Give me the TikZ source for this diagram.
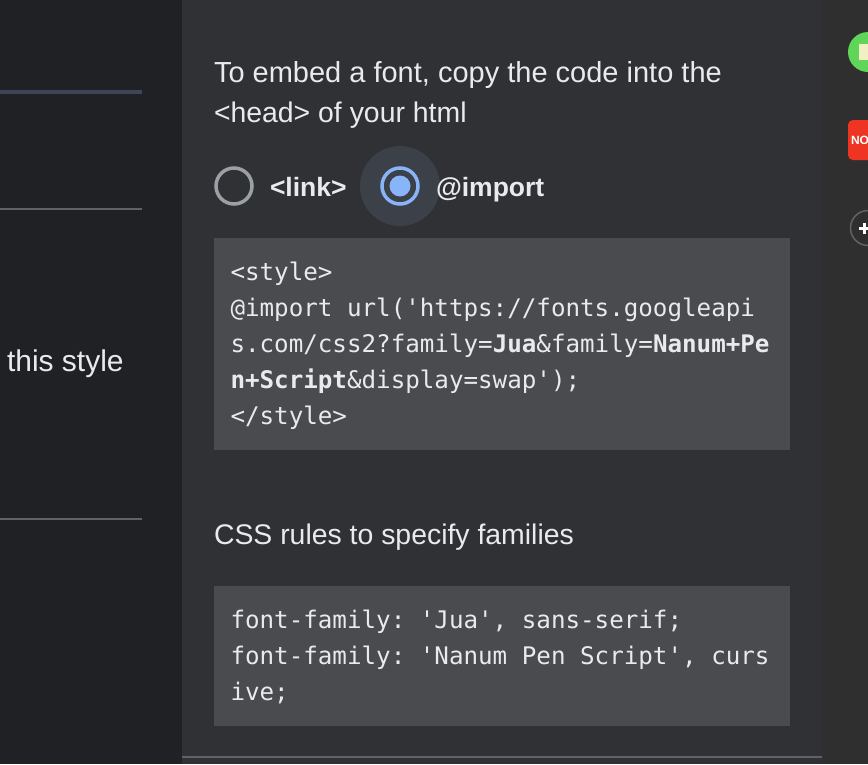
\documentclass[tikz,border=0pt]{standalone}
\usepackage{fontspec}
\setmainfont{Liberation Sans}
\setmonofont{DejaVu Sans Mono}
\usetikzlibrary{positioning}
\definecolor{sidebg}{HTML}{202124}
\definecolor{panelbg}{HTML}{303134}
\definecolor{railbg}{HTML}{2F2F2F}
\definecolor{codebg}{HTML}{4A4B4F}
\definecolor{rulegrey}{HTML}{5F6368}
\definecolor{tabblue}{HTML}{3C4655}
\definecolor{inktext}{HTML}{E8EAED}
\definecolor{radioblue}{HTML}{8AB4F8}
\definecolor{radiohalo}{HTML}{3C4048}
\definecolor{radiogrey}{HTML}{9AA0A6}
\definecolor{appgreen}{HTML}{5FD65A}
\definecolor{apppale}{HTML}{F3EFC4}
\definecolor{appred}{HTML}{EE3524}

\begin{document}
\begin{tikzpicture}[x=1pt,y=-1pt,
                every node/.style={inner sep=0pt, outer sep=0pt, anchor=base west, text=inktext},
                bodytext/.style={font=\fontsize{#1}{#1}\selectfont},
                boldtext/.style={font=\fontsize{26.5}{26.5}\selectfont\bfseries},
                codetext/.style={font=\fontsize{24.2}{24.2}\selectfont\ttfamily},
                sidebar/.style={line width=2pt, draw=rulegrey}]
            \useasboundingbox (0,0) rectangle (868,764);
            \clip (0,0) rectangle (868,764);
            % backgrounds
            \fill[sidebg] (0,0) rectangle (182,764);
            \fill[panelbg] (182,0) rectangle (822,764);
            \fill[railbg] (822,0) rectangle (868,764);
            \fill[codebg] (214,238) rectangle (790,450);
            \fill[codebg] (214,586) rectangle (790,726);
            % left column
            \coordinate (tabstart) at (0,92);
            \coordinate (tabend) at (142,92);
            \draw[line width=4pt, tabblue] (tabstart) -- (tabend);
            \coordinate (rulea) at (0,209);
            \coordinate (ruleaend) at (142,209);
            \draw[sidebar] (rulea) -- (ruleaend);
            \coordinate (ruleb) at (0,519);
            \coordinate (rulebend) at (142,519);
            \draw[sidebar] (ruleb) -- (rulebend);
            \node[bodytext=30] (stylelabel) at (7,371) {this style};
            % heading
            \node[bodytext=29] (headone) at (214,82) {To embed a font, copy the code into the};
            \node[bodytext=28.4] (headtwo) at (214,122) {<head> of your html};
            % radios
            \fill[radiohalo] (400,186) circle (40);
            \draw[line width=3.5pt, radiogrey] (234,186) circle (18);
            \draw[line width=3.5pt, radioblue] (400,186) circle (18);
            \fill[radioblue] (400,186) circle (10.5);
            \node[boldtext] (linklabel) at (270,196) {<link>};
            \node[boldtext] (importlabel) at (436,196) {@import};
            % first code block
            \node[codetext] (codea) at (230.5,280) {<style>};
            \node[codetext] (codeb) at (230.5,316) {@import url('https://fonts.googleapi};
            \node[codetext] (codec) at (230.5,352) {s.com/css2?family=\textbf{Jua}\&family=\textbf{Nanum+Pe}};
            \node[codetext] (coded) at (230.5,388) {\textbf{n+Script}\&display=swap');};
            \node[codetext] (codee) at (230.5,424) {</style>};
            % css rules
            \node[bodytext=28.4] (rulestitle) at (214,544) {CSS rules to specify families};
            \node[codetext] (cssa) at (230.5,628) {font-family: 'Jua', sans-serif;};
            \node[codetext] (cssb) at (230.5,664) {font-family: 'Nanum Pen Script', curs};
            \node[codetext] (cssc) at (230.5,700) {ive;};
            % bottom rule
            \coordinate (footstart) at (182,757);
            \coordinate (footend) at (822,757);
            \draw[sidebar] (footstart) -- (footend);
            % right rail
            \fill[appgreen] (868,52) circle (20);
            \fill[apppale] (859,44) rectangle (868,60);
            \fill[appred, rounded corners=5pt] (848,120) rectangle (880,160);
            \node[font=\fontsize{12}{12}\selectfont\bfseries, text=white] (nolabel) at (851,144.5) {NO};
            \draw[line width=1.5pt, rulegrey] (868,228) circle (17.5);
            \draw[line width=3pt, white] (859,228.5) -- (868,228.5);
            \draw[line width=3pt, white] (864.5,223) -- (864.5,234);
        \end{tikzpicture}
\end{document}
